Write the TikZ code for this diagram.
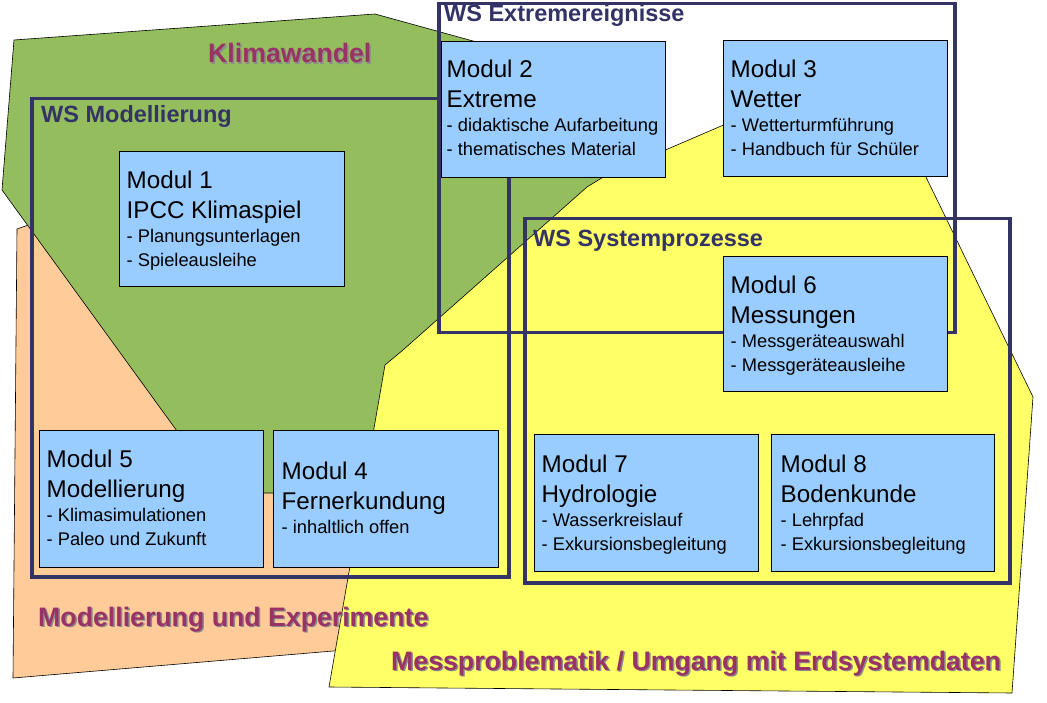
\documentclass[tikz,border=0pt]{standalone}
\usepackage{fontspec}
\setmainfont{Liberation Sans}
\usetikzlibrary{calc}
\definecolor{grn}{RGB}{148,189,94}
\definecolor{org}{RGB}{255,204,153}
\definecolor{yel}{RGB}{255,255,102}
\definecolor{blu}{RGB}{153,204,255}
\definecolor{navy}{RGB}{51,51,102}
\definecolor{mag}{RGB}{153,51,102}
\newcommand\bigf{\fontsize{24.2}{30}\selectfont\spaceskip=0pt\xspaceskip=0pt\relax}
\newcommand\smallf{\fontsize{18.3}{24}\selectfont\spaceskip=0pt\xspaceskip=0pt\relax}
\begin{document}
\begin{tikzpicture}[x=1pt,y=-1pt,
  region/.style={draw=black, line width=0.6pt, line join=round},
  wsframe/.style={draw=navy, line width=3.5pt, rectangle, inner sep=0pt, anchor=north west},
  modbox/.style={draw=black, line width=0.8pt, fill=blu, rectangle, inner sep=0pt, anchor=north west},
  modtext/.style={anchor=north west, inner sep=0pt, text width=240pt, align=left},
  wslabel/.style={anchor=base west, inner sep=0pt, text=navy, font=\fontsize{23.5}{27}\selectfont\bfseries},
  toplabel/.style={anchor=base west, inner sep=0pt, text=mag, font=\fontsize{26.7}{30}\selectfont\bfseries},
  shadowlabel/.style={toplabel, text=black!45}]
\useasboundingbox (0,0) rectangle (1047,703);
\fill[white] (0,0) rectangle (1047,703);
% regions
\draw[region, fill=org] (17,229) -- (100,200) -- (420,400) -- (345,650) -- (13,678) -- cycle;
\draw[region, fill=grn] (14,40) -- (375,14) -- (560,65) -- (640,160) -- (600,260) -- (380,493) -- (222,493) -- (2,190) -- cycle;
\draw[region, fill=yel] (870,62) -- (1033,397) -- (1012,693) -- (329,687) -- (385,365) -- (403,350) -- (587,187) -- (605,176) -- cycle;
% frames
\node[wsframe, minimum width=477pt, minimum height=478pt] (wsm) at (30,97) {};
\node[wsframe, minimum width=516pt, minimum height=329pt] (wse) at (437,2) {};
\node[wsframe, minimum width=485pt, minimum height=364pt] (wss) at (523,217) {};
\node[wslabel] (wsmL) at (41,123) {WS Modellierung};
\node[wslabel] (wseL) at (444,22) {WS Extremereignisse};
\node[wslabel] (wssL) at (533,247) {WS Systemprozesse};
% modules
\node[modbox, minimum width=225pt, minimum height=135pt] (m1) at (119,151) {};
\node[modbox, minimum width=224pt, minimum height=136pt] (m2) at (441,41) {};
\node[modbox, minimum width=224pt, minimum height=136pt] (m3) at (723,40) {};
\node[modbox, minimum width=224pt, minimum height=135pt] (m6) at (723,256) {};
\node[modbox, minimum width=224pt, minimum height=137pt] (m5) at (39,430) {};
\node[modbox, minimum width=225pt, minimum height=137pt] (m4) at (273,430) {};
\node[modbox, minimum width=224pt, minimum height=137pt] (m7) at (534,434) {};
\node[modbox, minimum width=223pt, minimum height=137pt] (m8) at (771,434) {};
\node[modtext] (t1) at ($(m1.north west)+(7.5,19.8)$) {{\bigf Modul 1\\IPCC Klimaspiel\par}{\smallf - Planungsunterlagen\\- Spieleausleihe\par}};
\node[modtext] (t2) at ($(m2.north west)+(5.5,18.8)$) {{\bigf Modul 2\\Extreme\par}{\smallf - didaktische Aufarbeitung\\- thematisches Material\par}};
\node[modtext] (t3) at ($(m3.north west)+(7.5,19.8)$) {{\bigf Modul 3\\Wetter\par}{\smallf - Wetterturmführung\\- Handbuch für Schüler\par}};
\node[modtext] (t6) at ($(m6.north west)+(7.5,19.8)$) {{\bigf Modul 6\\Messungen\par}{\smallf - Messgeräteauswahl\\- Messgeräteausleihe\par}};
\node[modtext] (t5) at ($(m5.north west)+(7.5,19.8)$) {{\bigf Modul 5\\Modellierung\par}{\smallf - Klimasimulationen\\- Paleo und Zukunft\par}};
\node[modtext] (t4) at ($(m4.north west)+(8.5,31.8)$) {{\bigf Modul 4\\Fernerkundung\par}{\smallf - inhaltlich offen\par}};
\node[modtext] (t7) at ($(m7.north west)+(7.5,20.8)$) {{\bigf Modul 7\\Hydrologie\par}{\smallf - Wasserkreislauf\\- Exkursionsbegleitung\par}};
\node[modtext] (t8) at ($(m8.north west)+(9.5,20.8)$) {{\bigf Modul 8\\Bodenkunde\par}{\smallf - Lehrpfad\\- Exkursionsbegleitung\par}};
% area labels
\node[shadowlabel] (klimaS) at (209.5,64.5) {Klimawandel};
\node[toplabel] (klima) at (208,63) {Klimawandel};
\node[shadowlabel] (modexpS) at (39.5,627.5) {Modellierung und Experimente};
\node[toplabel] (modexp) at (38,626) {Modellierung und Experimente};
\node[shadowlabel] (messS) at (392.5,671.5) {Messproblematik / Umgang mit Erdsystemdaten};
\node[toplabel] (mess) at (391,670) {Messproblematik / Umgang mit Erdsystemdaten};
\end{tikzpicture}
\end{document}
